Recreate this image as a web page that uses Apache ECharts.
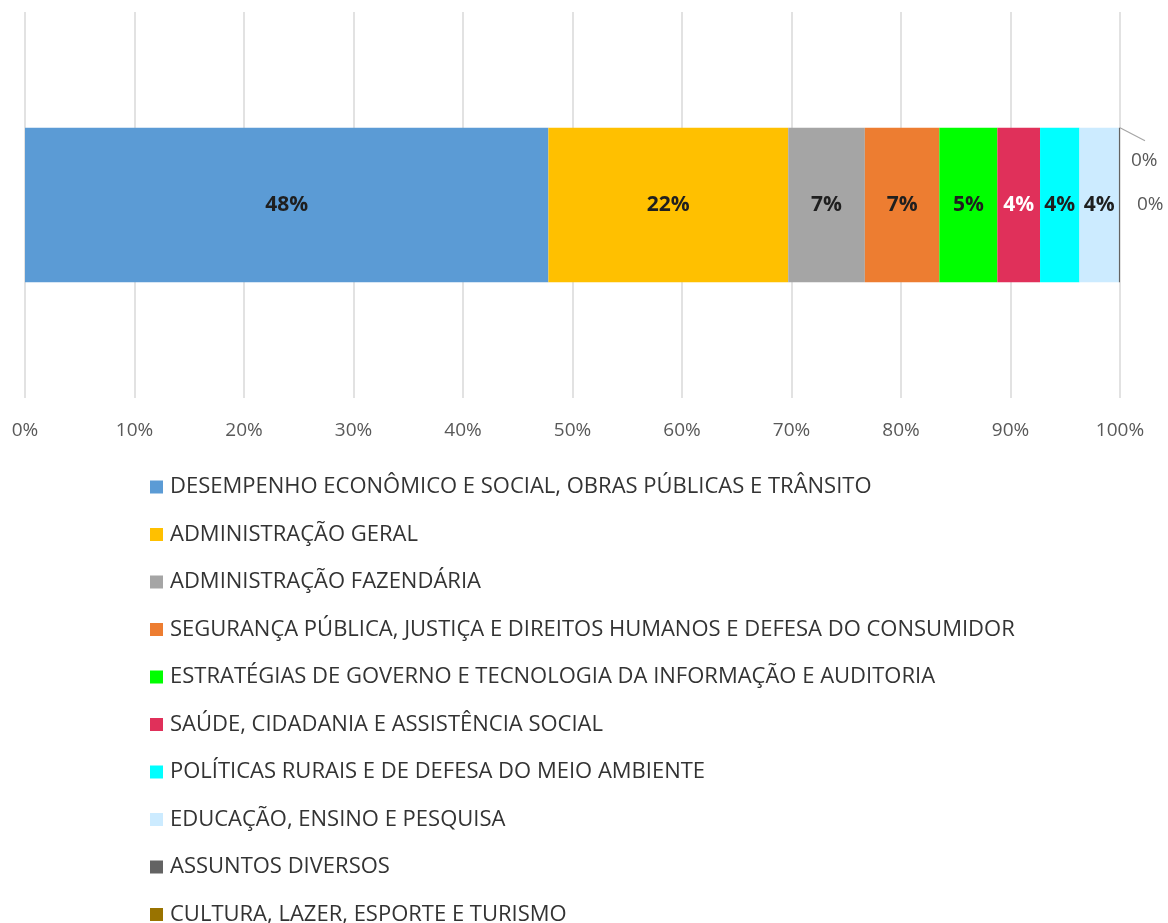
<!DOCTYPE html>
<html>
<head>
<meta charset="utf-8">
<script src="https://cdn.jsdelivr.net/npm/echarts@6/dist/echarts.min.js"></script>
<style>
html,body{margin:0;padding:0;background:#fff;}
#chart{width:1168px;height:923px;}
</style>
</head>
<body>
<div id="chart"></div>
<script>
const categories = [''];
const seriesNames = [
  'DESEMPENHO ECONÔMICO E SOCIAL, OBRAS PÚBLICAS E TRÂNSITO',
  'ADMINISTRAÇÃO GERAL',
  'ADMINISTRAÇÃO FAZENDÁRIA',
  'SEGURANÇA PÚBLICA, JUSTIÇA E DIREITOS HUMANOS E DEFESA DO CONSUMIDOR',
  'ESTRATÉGIAS DE GOVERNO E TECNOLOGIA DA INFORMAÇÃO E AUDITORIA',
  'SAÚDE, CIDADANIA E ASSISTÊNCIA SOCIAL',
  'POLÍTICAS RURAIS E DE DEFESA DO MEIO AMBIENTE',
  'EDUCAÇÃO, ENSINO E PESQUISA',
  'ASSUNTOS DIVERSOS',
  'CULTURA, LAZER, ESPORTE E TURISMO'
];
const seriesValues = [47.8, 21.9, 7.0, 6.8, 5.3, 3.9, 3.6, 3.6, 0.1, 0.05];
const seriesColors = ['#5B9BD5','#FFC000','#A5A5A5','#ED7D31','#00FF00','#E0305A','#00FFFF','#CCEBFF','#636363','#997300'];
const labelColors = ['#1F1F1F','#1F1F1F','#1F1F1F','#1F1F1F','#1F1F1F','#FFFFFF','#1F1F1F','#1F1F1F','#595959','#595959'];
const tickLabels = ['0%','10%','20%','30%','40%','50%','60%','70%','80%','90%','100%'];

const FONT = 'Open Sans';
const BAR_RATIO = 0.4;
const chart = echarts.init(document.getElementById('chart'), null, {renderer:'canvas'});

const series = seriesNames.map((name, i) => {
  const s = {
    name: name,
    type: 'bar',
    stack: 'total',
    barWidth: (BAR_RATIO * 100) + '%',
    data: [seriesValues[i]],
    itemStyle: {color: seriesColors[i]},
    label: {
      show: true,
      position: 'inside',
      formatter: p => Math.round(p.value) + '%',
      fontFamily: FONT,
      fontSize: 21,
      fontWeight: 'bold',
      color: labelColors[i]
    }
  };
  if (i === 8) {
    s.label = {show:true, position:'right', distance:11, formatter: p => Math.round(p.value) + '%',
      fontFamily: FONT, fontSize: 19, color: '#595959'};
    s.labelLayout = {dy: -44};
  }
  if (i === 9) {
    s.label = {show:true, position:'right', distance:17, formatter: p => Math.round(p.value) + '%',
      fontFamily: FONT, fontSize: 19, color: '#595959'};
  }
  return s;
});

chart.setOption({
  animation: false,
  grid: {left: 25, right: 48, top: 12, bottom: 525, containLabel: false},
  xAxis: {
    type: 'value',
    min: 0, max: 100, interval: 10,
    axisLine: {show: false},
    axisTick: {show: false},
    splitLine: {show: true, lineStyle: {color: '#D9D9D9', width: 1.5}},
    axisLabel: {
      margin: 23,
      fontFamily: FONT, fontSize: 19, color: '#595959',
      formatter: v => tickLabels[Math.round(v / 10)]
    }
  },
  yAxis: {
    type: 'category',
    data: categories,
    axisLine: {show: false},
    axisTick: {show: false},
    axisLabel: {show: false}
  },
  legend: {
    orient: 'vertical',
    left: 145,
    top: 471,
    height: 600,
    itemWidth: 13,
    itemHeight: 13,
    itemGap: 25.5,
    icon: 'rect',
    textStyle: {fontFamily: FONT, fontSize: 22, lineHeight: 22, color: '#333333', padding: [0,0,0,2]},
    data: seriesNames
  },
  series: series
});

// leader line for the tiny "ASSUNTOS DIVERSOS" segment, derived from the axis scales
const total = seriesValues.slice(0, 9).reduce((a, b) => a + b, 0);
const endPt = chart.convertToPixel({gridIndex: 0}, [total, 0]);
const gridRect = chart.getModel().getComponent('grid', 0).coordinateSystem.getRect();
const halfBar = gridRect.height / categories.length * BAR_RATIO / 2;
const x0 = endPt[0], y0 = endPt[1] - halfBar;
chart.setOption({
  graphic: [{
    type: 'polyline',
    silent: true,
    shape: {points: [[x0, y0], [x0 + 25, y0 + 13]]},
    style: {stroke: '#A6A6A6', lineWidth: 1.2, fill: null}
  }]
});
</script>
</body>
</html>
